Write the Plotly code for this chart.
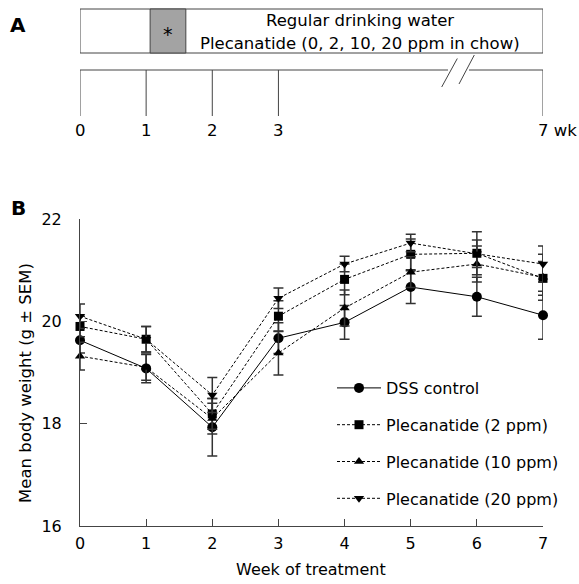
import plotly.graph_objects as go

# ---------------- data ----------------
weeks = [0, 1, 2, 3, 4, 5, 6, 7]
dss = [19.63, 19.08, 17.93, 19.67, 19.98, 20.67, 20.48, 20.12]
p2 = [19.90, 19.65, 18.19, 20.10, 20.82, 21.31, 21.33, 20.84]
p10 = [19.32, 19.10, 18.10, 19.38, 20.26, 20.96, 21.12, 20.86]
p20 = [20.10, 19.65, 18.56, 20.45, 21.12, 21.53, 21.32, 21.12]
dss_sem = [0.25, 0.28, 0.56, 0.30, 0.33, 0.32, 0.38, 0.47]
p2_sem = [0.20, 0.25, 0.30, 0.30, 0.30, 0.30, 0.42, 0.33]
p10_sem = [0.27, 0.25, 0.30, 0.43, 0.35, 0.30, 0.35, 0.45]
p20_sem = [0.24, 0.25, 0.34, 0.20, 0.15, 0.17, 0.27, 0.35]
series_names = ["DSS control", "Plecanatide (2 ppm)", "Plecanatide (10 ppm)", "Plecanatide (20 ppm)"]

y_ticks = [16, 18, 20, 22]

# timeline (panel A) – weeks on the same scale as the main x axis
timeline_weeks = [0, 1, 2, 3, 7]
timeline_labels = ["0", "1", "2", "3", "7 wk"]
dss_period = [1.06, 1.60]       # grey (DSS) block, in weeks
box_weeks = [0, 7]

FONT = "DejaVu Sans"
W, H = 579, 584

def PX(x):
    return x / W

def PY(y):
    return 1 - y / H

fig = go.Figure()

styles = [
    dict(symbol="circle", size=10, dash="solid"),
    dict(symbol="square", size=9, dash="3px,2px"),
    dict(symbol="triangle-up", size=9, dash="3px,2px"),
    dict(symbol="triangle-down", size=9, dash="3px,2px"),
]
vals = [dss, p2, p10, p20]
sems = [dss_sem, p2_sem, p10_sem, p20_sem]

for i, (name, v, s, st) in enumerate(zip(series_names, vals, sems, styles)):
    fig.add_trace(go.Scatter(
        x=weeks, y=v, name=name, mode="lines+markers",
        line=dict(color="black", width=1, dash=st["dash"]),
        marker=dict(symbol=st["symbol"], size=st["size"], color="black"),
        error_y=dict(type="data", array=s, visible=True, color="#333333", thickness=1.5, width=5),
        cliponaxis=False, legendgroup=f"g{i}",
    ))

shapes = []
LC = "#444444"
def px_line(x0, y0, x1, y1, w=1, c=LC):
    shapes.append(dict(type="line", xref="paper", yref="paper", x0=PX(x0), y0=PY(y0),
                       x1=PX(x1), y1=PY(y1), line=dict(color=c, width=w)))

def wk_line(w0, y0, w1, y1, c=LC):
    shapes.append(dict(type="line", xref="x", yref="paper", x0=w0, y0=PY(y0),
                       x1=w1, y1=PY(y1), line=dict(color=c, width=1)))

# schematic box
shapes.append(dict(type="rect", xref="x", yref="paper", x0=box_weeks[0], y0=PY(9),
                   x1=box_weeks[1], y1=PY(53), line=dict(color=LC, width=1), fillcolor="white"))
shapes.append(dict(type="rect", xref="x", yref="paper", x0=dss_period[0], y0=PY(9),
                   x1=dss_period[1], y1=PY(53), line=dict(color=LC, width=1), fillcolor="#a3a3a3"))
# timeline with axis break
px_line(80, 70, 448, 70)
px_line(469, 70, 543, 70)
px_line(441.7, 87, 457.3, 58.5)
px_line(459, 84, 474.3, 55)
for w in timeline_weeks:
    wk_line(w, 70, w, 116)

annotations = []
def px_text(x, y, t, size=16, bold=False, xanchor="center", angle=0, xref="paper"):
    annotations.append(dict(xref=xref, yref="paper", x=(x if xref == "x" else PX(x)), y=PY(y),
                            text=(f"<b>{t}</b>" if bold else t),
                            showarrow=False, xanchor=xanchor, yanchor="middle", textangle=angle,
                            font=dict(family=FONT, size=size, color="black")))

px_text(168, 34, "*", size=19)
px_text(360, 20, "Regular drinking water", size=16.5)
px_text(360, 44, "Plecanatide (0, 2, 10, 20 ppm in chow)", size=16.5)
for lab, w in zip(timeline_labels, timeline_weeks):
    if lab.endswith("wk"):
        annotations.append(dict(xref="x", yref="paper", x=w, y=PY(130), text=lab, showarrow=False,
                                xanchor="left", yanchor="middle", xshift=-7,
                                font=dict(family=FONT, size=16.5, color="black")))
    else:
        px_text(w, 130, lab, size=16.5, xref="x")
px_text(18, 25, "A", size=20, bold=True)
px_text(18, 208, "B", size=20, bold=True)
px_text(311, 569, "Week of treatment", size=16)
px_text(25, 383, "Mean body weight (g ± SEM)", size=16.5, angle=-90)

fig.update_layout(
    width=W, height=H,
    margin=dict(l=0, r=0, t=0, b=0),
    paper_bgcolor="white", plot_bgcolor="rgba(0,0,0,0)",
    font=dict(family=FONT, size=16, color="black"),
    showlegend=True,
    legend=dict(x=PX(332), y=PY(371), xanchor="left", yanchor="top",
                bgcolor="rgba(0,0,0,0)", font=dict(size=16), tracegroupgap=13,
                itemwidth=44),
    xaxis=dict(domain=[PX(80), PX(543)], range=[0, 7], tickvals=weeks, ticks="inside", ticklen=7,
               showline=True, linecolor=LC, linewidth=1, tickcolor=LC, showgrid=False,
               zeroline=False, ticklabelstandoff=3, automargin=False,
               tickfont=dict(size=16)),
    yaxis=dict(domain=[PY(526), PY(219)], range=[16, 22], tickvals=y_ticks, ticks="inside", ticklen=7,
               showline=True, linecolor=LC, linewidth=1, tickcolor=LC, showgrid=False,
               zeroline=False, ticklabelstandoff=14, automargin=False,
               tickfont=dict(size=16)),
    shapes=shapes, annotations=annotations,
)

fig.write_html("out.html", config={"displayModeBar": False},
               post_script="document.body.style.margin='0';document.body.style.overflow='hidden';")
